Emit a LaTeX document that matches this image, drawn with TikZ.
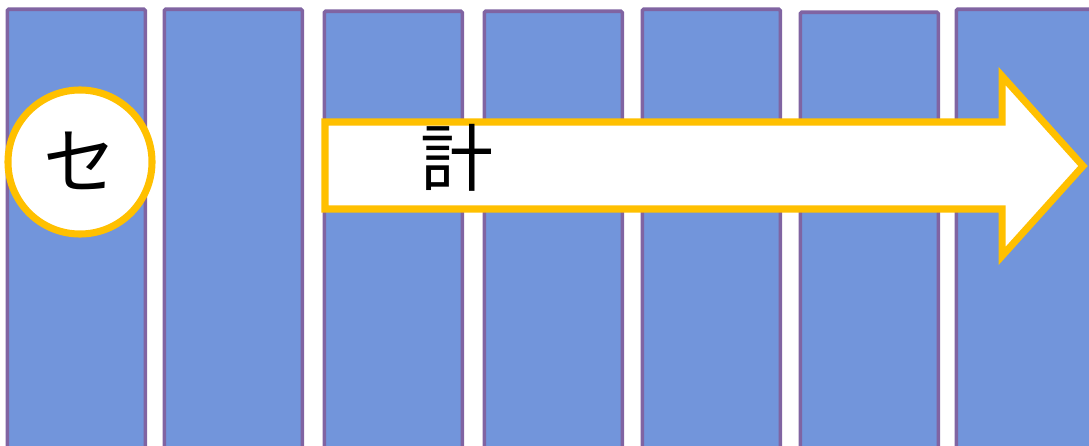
\documentclass[tikz,border=0pt]{standalone}
\usepackage{fontspec}
\newfontfamily\cjk{Noto Sans CJK JP}
\usetikzlibrary{positioning}
\definecolor{colfill}{RGB}{114,149,219}
\definecolor{colline}{RGB}{128,100,162}
\definecolor{gold}{RGB}{255,192,0}
\tikzset{
  column/.style={draw=colline,fill=colfill,line width=2.6pt,rounded corners=1pt,
    inner sep=0pt,anchor=north west,minimum width=3.45cm,minimum height=11cm},
  badge/.style={circle,draw=gold,fill=white,line width=5pt,inner sep=0pt,
    minimum size=3.6cm,font=\cjk\fontsize{52}{52}\selectfont},
  band/.style={draw=gold,fill=white,line width=5pt,miter limit=4},
  label/.style={font=\cjk\fontsize{52}{52}\selectfont,inner sep=0pt},
}
\begin{document}
\begin{tikzpicture}[x=0.025cm,y=-0.025cm]
    \useasboundingbox (0,0) rectangle (1089,446);
    \clip (0,0) rectangle (1089,446);
    % columns
    \foreach \x/\y [count=\i] in {5.5/7.5,162.5/7.5,322.5/9.5,482.5/9.5,640.5/7.5,798.5/10.5,954.5/7.5}
      \node[column] (col\i) at (\x,\y) {};
    % arrow
    \draw[band] (325,122) coordinate (tail) -- (1002,122) -- (1002,76)
      -- (1083,166) coordinate (tip) -- (1002,256) -- (1002,209) -- (325,209) -- cycle;
    \node[label] (calc) at (457,158) {計};
    % badge
    \node[badge] (se) at (80,162) {\raisebox{3pt}{セ}};
\end{tikzpicture}
\end{document}
